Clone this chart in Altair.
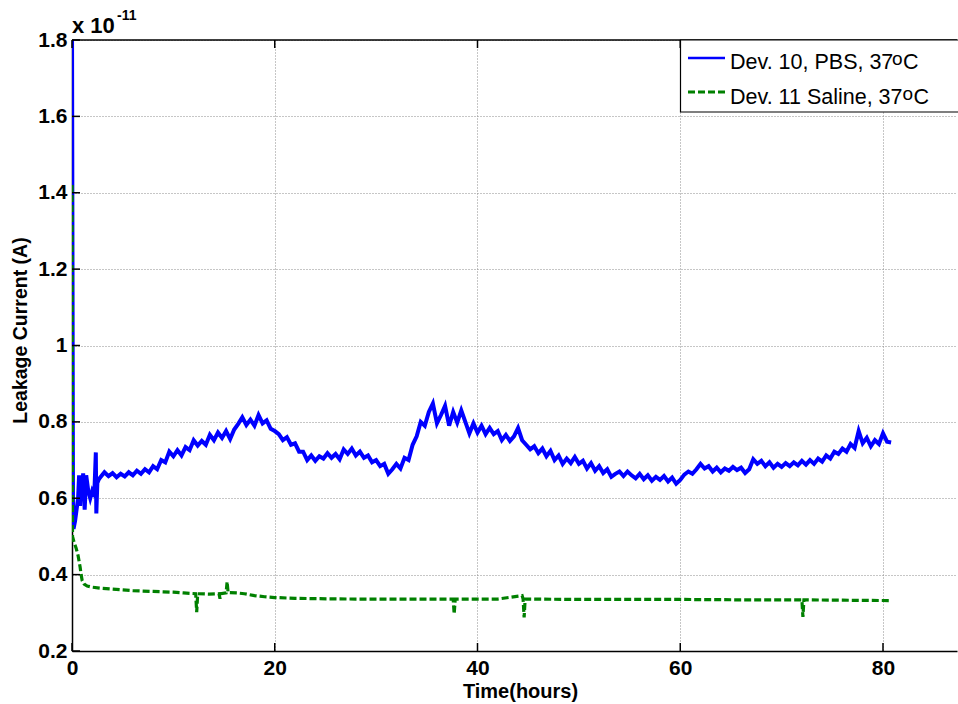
import altair as alt
import pandas as pd

FONT = "Liberation Sans"

# ---------------- data ----------------
x_ticks = [0, 20, 40, 60, 80]
y_ticks = [0.2, 0.4, 0.6, 0.8, 1.0, 1.2, 1.4, 1.6, 1.8]

# Dev. 10 (PBS) - initial transient
blue_early_t = [0.0, 0.05, 0.1, 0.15, 0.3, 0.45, 0.6, 0.7, 0.8, 0.9, 1.0, 1.1,
                1.25, 1.4, 1.6, 1.8, 2.0, 2.2, 2.35, 2.4, 2.5, 2.65]
blue_early_v = [1.85, 1.2, 0.55, 0.52, 0.54, 0.57, 0.60, 0.66, 0.58, 0.66, 0.60, 0.665,
                0.57, 0.66, 0.62, 0.60, 0.62, 0.61, 0.72, 0.56, 0.64, 0.65]

# Dev. 10 (PBS) - sampled every 0.4 h from 2.8 h
blue_t_start = 2.8
blue_t_step = 0.4
blue_v = [
    0.655, 0.668, 0.658, 0.666, 0.655, 0.664, 0.657, 0.668, 0.660, 0.672,
    0.664, 0.676, 0.668, 0.684, 0.676, 0.700, 0.694, 0.722, 0.710, 0.726,
    0.712, 0.734, 0.726, 0.752, 0.738, 0.750, 0.740, 0.766, 0.752, 0.772,
    0.758, 0.776, 0.755, 0.780, 0.795, 0.812, 0.792, 0.806, 0.790, 0.818,
    0.796, 0.804, 0.782, 0.776, 0.768, 0.752, 0.760, 0.740, 0.744, 0.722,
    0.722, 0.700, 0.712, 0.698, 0.710, 0.704, 0.718, 0.706, 0.716, 0.702,
    0.728, 0.716, 0.730, 0.712, 0.722, 0.706, 0.712, 0.694, 0.700, 0.684,
    0.690, 0.664, 0.676, 0.690, 0.678, 0.706, 0.700, 0.740, 0.762, 0.800,
    0.790, 0.826, 0.848, 0.796, 0.818, 0.842, 0.790, 0.826, 0.798, 0.830,
    0.800, 0.770, 0.796, 0.772, 0.790, 0.768, 0.784, 0.768, 0.776, 0.752,
    0.766, 0.750, 0.762, 0.784, 0.752, 0.740, 0.728, 0.736, 0.718, 0.730,
    0.710, 0.724, 0.700, 0.712, 0.690, 0.704, 0.692, 0.708, 0.690, 0.698,
    0.678, 0.692, 0.672, 0.684, 0.666, 0.676, 0.656, 0.664, 0.670, 0.658,
    0.670, 0.660, 0.652, 0.664, 0.650, 0.660, 0.646, 0.656, 0.648, 0.658,
    0.644, 0.654, 0.638, 0.648, 0.662, 0.670, 0.664, 0.676, 0.690, 0.678,
    0.684, 0.670, 0.680, 0.668, 0.678, 0.672, 0.682, 0.674, 0.680, 0.666,
    0.676, 0.702, 0.690, 0.698, 0.684, 0.694, 0.680, 0.690, 0.682, 0.692,
    0.684, 0.694, 0.686, 0.698, 0.688, 0.700, 0.690, 0.704, 0.696, 0.712,
    0.704, 0.722, 0.716, 0.730, 0.722, 0.742, 0.732, 0.776, 0.744, 0.758,
    0.736, 0.752, 0.742, 0.770, 0.748, 0.746,
]

# Dev. 11 (Saline)
green_t = [0.0, 0.05, 0.2, 0.4, 0.6, 0.8, 0.9, 1.0, 1.2, 1.5, 2.0, 3.0, 4.0, 5.0,
           6.0, 7.0, 8.0, 9.0, 10.0, 11.0, 12.2, 12.3, 12.4, 13.5, 14.5, 14.6,
           14.7, 15.2, 15.3, 15.4, 16.3, 17.0, 18.0, 19.0, 20.0, 22.0, 24.0,
           28.0, 32.0, 37.6, 37.7, 37.8, 42.0, 44.4, 44.5, 44.6, 44.7, 50.0,
           60.0, 66.0, 72.0, 72.1, 72.2, 76.0, 80.8]
green_v = [1.42, 0.50, 0.485, 0.47, 0.45, 0.42, 0.40, 0.385, 0.375, 0.370, 0.367,
           0.364, 0.362, 0.360, 0.358, 0.357, 0.356, 0.355, 0.354, 0.352, 0.350,
           0.302, 0.350, 0.349, 0.350, 0.337, 0.350, 0.352, 0.381, 0.353, 0.352,
           0.350, 0.345, 0.342, 0.340, 0.338, 0.337, 0.336, 0.336, 0.336, 0.297,
           0.336, 0.336, 0.345, 0.336, 0.288, 0.336, 0.335, 0.335, 0.334, 0.334,
           0.289, 0.334, 0.333, 0.332]

legend_main = ["Dev. 10, PBS, 37", "Dev. 11 Saline, 37"]
legend_sup = "o"
legend_unit = "C"

# ---------------- tables ----------------
blue_t = blue_early_t + [round(blue_t_start + blue_t_step * i, 2) for i in range(len(blue_v))]
df_blue = pd.DataFrame({"t": blue_t, "v": blue_early_v + blue_v})
df_green = pd.DataFrame({"t": green_t, "v": green_v})
df_xt = pd.DataFrame({"t": x_ticks})
df_yt = pd.DataFrame({"v": y_ticks})
df_one = pd.DataFrame({"a": [0]})

W, H = 885, 611

x_scale = alt.Scale(domain=[0, 87.3], nice=False, zero=False)
y_scale = alt.Scale(domain=[0.2, 1.8], nice=False, zero=False)

common = dict(grid=True, gridDash=[1, 2], gridColor="#8c8c8c", gridWidth=1,
              ticks=False, domainColor="black", domainWidth=1.5,
              labelFont=FONT, labelFontSize=21, labelFontWeight="bold",
              labelColor="black", labelFlush=False, labelOverlap=False,
              titleFont=FONT, titleFontWeight="bold", titleColor="black")

x_axis = alt.Axis(values=x_ticks, format="d", title="Time(hours)",
                  labelPadding=6, titleFontSize=20, titleX=448, titleY=46,
                  titleBaseline="alphabetic", titleAlign="center", **common)
y_axis = alt.Axis(values=y_ticks, format=".1~f", title="Leakage Current (A)",
                  labelPadding=5, titleFontSize=19.5, titleX=-52, titleY=290,
                  titleAngle=270, titleAlign="center", titleBaseline="middle",
                  **common)

X = alt.X("t:Q", scale=x_scale, axis=x_axis)
Y = alt.Y("v:Q", scale=y_scale, axis=y_axis)

blue = alt.Chart(df_blue).mark_line(color="#0000ff", strokeWidth=4, clip=True,
                                    strokeJoin="miter").encode(x=X, y=Y)
green = alt.Chart(df_green).mark_line(color="#008000", strokeWidth=3.2, strokeDash=[7, 3],
                                       clip=True).encode(x=X, y=Y)

xt_bottom = alt.Chart(df_xt).mark_rule(color="black", strokeWidth=1.5).encode(
    x=X, y=alt.value(H), y2=alt.value(H - 8))
xt_top = alt.Chart(df_xt).mark_rule(color="black", strokeWidth=1.5).encode(
    x=X, y=alt.value(0), y2=alt.value(8))
yt_left = alt.Chart(df_yt).mark_rule(color="black", strokeWidth=1.5).encode(
    y=Y, x=alt.value(0), x2=alt.value(8))
top_border = alt.Chart(df_one).mark_rule(color="black", strokeWidth=1.5).encode(
    x=alt.value(0), x2=alt.value(W), y=alt.value(0))

exp_base = alt.Chart(df_one).mark_text(text="x 10", font=FONT, fontSize=22, fontWeight="bold",
                                       align="left", baseline="alphabetic", color="black").encode(
    x=alt.value(0), y=alt.value(-7))
exp_pow = alt.Chart(df_one).mark_text(text="-11", font=FONT, fontSize=14, fontWeight="bold",
                                      align="left", baseline="alphabetic", color="black").encode(
    x=alt.value(45), y=alt.value(-20))

leg_box = alt.Chart(df_one).mark_rect(fill="white", stroke="black", strokeWidth=1.2).encode(
    x=alt.value(608.5), x2=alt.value(905), y=alt.value(0), y2=alt.value(72))
leg_l1 = alt.Chart(df_one).mark_rule(color="#0000ff", strokeWidth=2.5).encode(
    x=alt.value(616), x2=alt.value(653), y=alt.value(18))
leg_l2 = alt.Chart(df_one).mark_rule(color="#008000", strokeWidth=3, strokeDash=[7, 3]).encode(
    x=alt.value(616), x2=alt.value(653), y=alt.value(52))


def leg_text(txt, x, y, size):
    return alt.Chart(df_one).mark_text(text=txt, font=FONT, fontSize=size, align="left",
                                       baseline="alphabetic", color="black").encode(
        x=alt.value(x), y=alt.value(y))


LFS = 21.5
legend_layers = [
    leg_text(legend_main[0], 658, 29, LFS),
    leg_text(legend_sup, 820, 25, 19),
    leg_text(legend_unit, 831, 29, LFS),
    leg_text(legend_main[1], 658, 64, LFS),
    leg_text(legend_sup, 830.5, 60, 19),
    leg_text(legend_unit, 841.5, 64, LFS),
]

chart = alt.layer(
    blue, green, xt_bottom, xt_top, yt_left, top_border, exp_base, exp_pow,
    leg_box, leg_l1, leg_l2, *legend_layers
).properties(
    width=W, height=H,
    padding={"left": 72, "top": 40, "right": 1, "bottom": 53},
    autosize=alt.AutoSizeParams(type="none"),
    background="white",
).configure_view(stroke=None)

chart.save("out.html", embed_options={"renderer": "svg", "actions": False})
